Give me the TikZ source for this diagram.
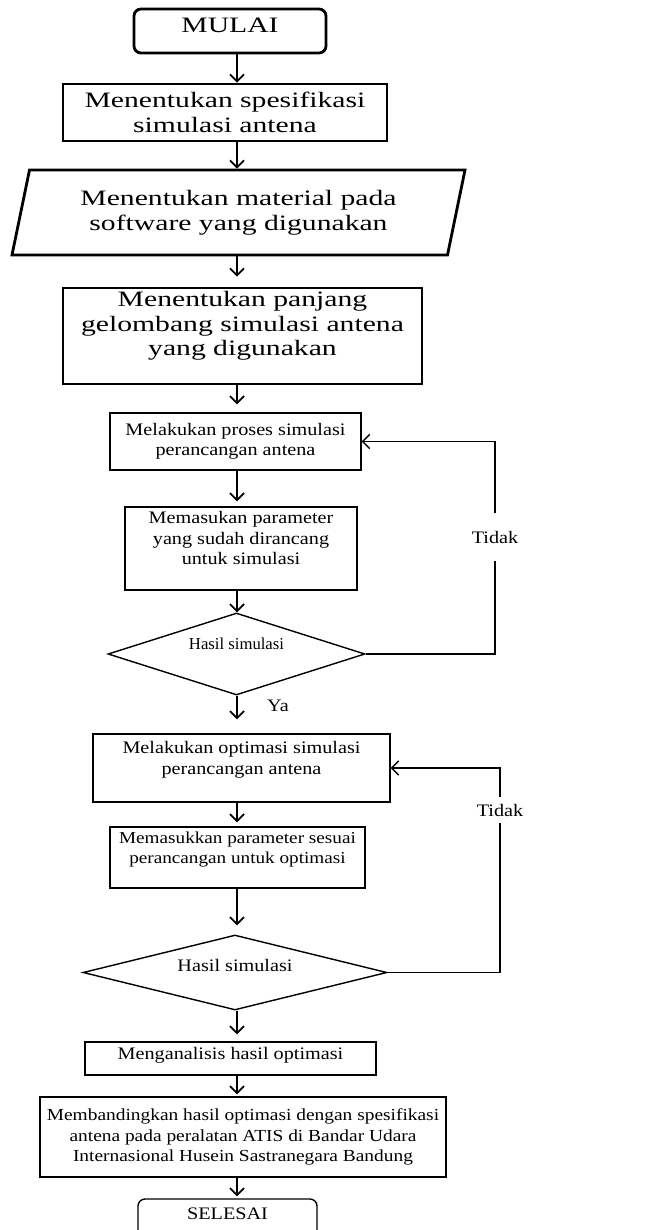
\documentclass[tikz,border=0pt]{standalone}
\usepackage{fontspec}
\setmainfont{Liberation Serif}
\newfontfamily\bigfont[FakeStretch=1.35]{Liberation Serif}
\newfontfamily\smallfont[FakeStretch=1.15]{Liberation Serif}
\usetikzlibrary{arrows.meta,shapes}
\begin{document}
\begin{tikzpicture}
\useasboundingbox (0,0) rectangle (13.08,-24.6);
\clip (0,0) rectangle (13.08,-24.6);
\tikzstyle{every node}=[align=center,inner sep=1pt,font=\smallfont\fontsize{10}{11.7}\selectfont]
\tikzstyle{big}=[draw,line width=1.6pt,font=\bigfont\fontsize{12.5}{14}\selectfont]
\tikzstyle{box}=[draw,thick]
\tikzstyle{ends}=[rounded corners=4pt]
\tikzstyle{cek}=[draw,thick,diamond]
\tikzstyle{flow}=[-{Straight Barb[length=4pt,width=8pt]},line width=1pt]
\node[big,ends,minimum width=3.84cm,minimum height=0.88cm,text depth=0.24cm] (a) at (4.6,-0.62) {MULAI};
\node[big,minimum width=6.48cm,minimum height=1.14cm] (b) at (4.5,-2.25) {Menentukan spesifikasi\\simulasi antena};
\node[big,trapezium,trapezium left angle=70,trapezium right angle=110,trapezium stretches body,minimum width=9.06cm,minimum height=1.7cm] (c) at (4.77,-4.25) {Menentukan material pada\\software yang digunakan};
\node[big,minimum width=7.18cm,minimum height=1.92cm] (d) at (4.85,-6.72) {Menentukan panjang\\gelombang simulasi antena\\yang digunakan\\ \mbox{}};
\node[box,minimum width=5.02cm,minimum height=1.14cm] (e) at (4.71,-8.83) {Melakukan proses simulasi\\perancangan antena};
\node[box,minimum width=4.64cm,minimum height=1.66cm] (f) at (4.82,-10.97) {Memasukan parameter\\yang sudah dirancang\\untuk simulasi\\ \mbox{}};
\node[cek,aspect=3,minimum width=5.14cm,minimum height=1.64cm,text depth=0.4cm,font=\rmfamily\fontsize{9.5}{11}\selectfont] (g) at (4.73,-13.08) {Hasil simulasi};
\node (ya) at (5.56,-14.12) {Ya};
\node[box,minimum width=5.94cm,minimum height=1.36cm] (h) at (4.83,-15.36) {Melakukan optimasi simulasi\\perancangan antena\\ \mbox{}};
\node[box,minimum width=5.1cm,minimum height=1.22cm,font=\smallfont\fontsize{9.5}{11.5}\selectfont] (i) at (4.75,-17.15) {Memasukkan parameter sesuai\\perancangan untuk optimasi\\ \mbox{}};
\node[cek,aspect=4,minimum width=6.08cm,minimum height=1.5cm,text depth=0.3cm] (j) at (4.7,-19.45) {Hasil simulasi};
\node[box,minimum width=5.82cm,minimum height=0.66cm,text depth=0.22cm] (k) at (4.61,-21.17) {Menganalisis hasil optimasi};
\node[box,minimum width=8.12cm,minimum height=1.6cm,font=\smallfont\fontsize{9.6}{11.5}\selectfont] (l) at (4.86,-22.74) {Membandingkan hasil optimasi dengan spesifikasi\\antena pada peralatan ATIS di Bandar Udara\\Internasional Husein Sastranegara Bandung};
\node[box,ends,minimum width=3.58cm,minimum height=0.88cm,text depth=0.3cm] (m) at (4.55,-24.42) {SELESAI};
\node[minimum height=0.94cm] (t1) at (9.9,-10.74) {Tidak};
\node[minimum height=0.5cm] (t2) at (10,-16.2) {Tidak};
\coordinate (x) at (4.74,0);
\foreach \from/\to/\gap in {a/b/0pt,b/c/0pt,c/d/0.2cm,d/e/0.16cm,e/f/0.1cm,f/g/0pt,g/h/0.28cm,h/i/0.08cm,i/j/0.18cm,j/k/0.14cm,k/l/0.04cm,l/m/0.04cm}
\draw[flow,shorten >=\gap] (\from.south -| x) -- (\to.north -| x);
\draw[thick] (g.east) -| (t1.south);
\draw[flow,thick] (t1.north) |- (e.east);
\draw[thick] (j.east) -| (t2.south);
\draw[flow,thick] (t2.north) |- (h.east);
\end{tikzpicture}
\end{document}
